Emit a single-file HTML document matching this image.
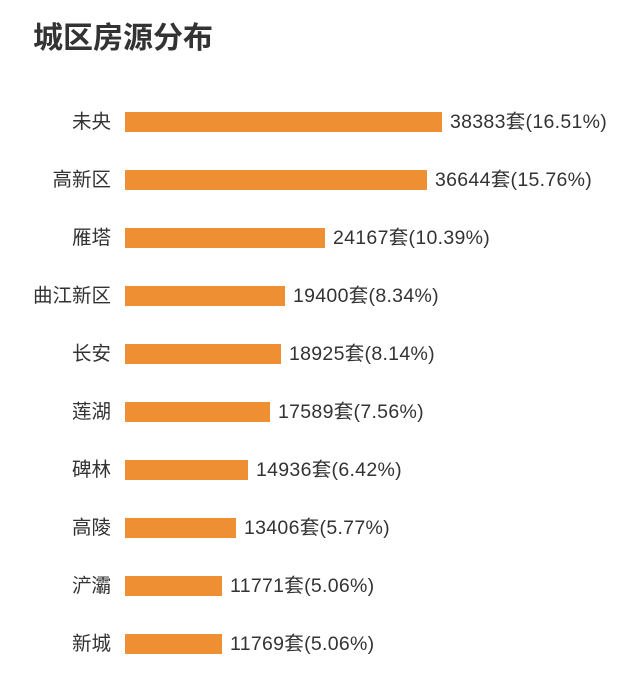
<!DOCTYPE html>
<html><head><meta charset="utf-8"><style>
body{margin:0;width:642px;height:676px;background:#fff;position:relative;overflow:hidden;font-family:"Liberation Sans","Noto Sans CJK SC",sans-serif;}
.t{position:absolute;left:33px;top:21px;font-size:30px;font-weight:bold;color:#333;line-height:36px;}
.l{position:absolute;right:531px;font-size:19.5px;color:#333;line-height:20px;white-space:nowrap;}
.b{position:absolute;left:125px;height:20px;background:#ee8f33;}
.v{position:absolute;font-size:19.5px;letter-spacing:0.3px;color:#333;line-height:20px;white-space:nowrap;}
</style></head><body>
<div class="t">城区房源分布</div>
<div class="l" style="top:112px">未央</div><div class="b" style="top:112px;width:317px"></div><div class="v" style="left:450px;top:112px">38383套(16.51%)</div>
<div class="l" style="top:170px">高新区</div><div class="b" style="top:170px;width:302px"></div><div class="v" style="left:435px;top:170px">36644套(15.76%)</div>
<div class="l" style="top:228px">雁塔</div><div class="b" style="top:228px;width:200px"></div><div class="v" style="left:333px;top:228px">24167套(10.39%)</div>
<div class="l" style="top:286px">曲江新区</div><div class="b" style="top:286px;width:160px"></div><div class="v" style="left:293px;top:286px">19400套(8.34%)</div>
<div class="l" style="top:344px">长安</div><div class="b" style="top:344px;width:156px"></div><div class="v" style="left:289px;top:344px">18925套(8.14%)</div>
<div class="l" style="top:402px">莲湖</div><div class="b" style="top:402px;width:145px"></div><div class="v" style="left:278px;top:402px">17589套(7.56%)</div>
<div class="l" style="top:460px">碑林</div><div class="b" style="top:460px;width:123px"></div><div class="v" style="left:256px;top:460px">14936套(6.42%)</div>
<div class="l" style="top:518px">高陵</div><div class="b" style="top:518px;width:111px"></div><div class="v" style="left:244px;top:518px">13406套(5.77%)</div>
<div class="l" style="top:576px">浐灞</div><div class="b" style="top:576px;width:97px"></div><div class="v" style="left:230px;top:576px">11771套(5.06%)</div>
<div class="l" style="top:634px">新城</div><div class="b" style="top:634px;width:97px"></div><div class="v" style="left:230px;top:634px">11769套(5.06%)</div>
</body></html>
